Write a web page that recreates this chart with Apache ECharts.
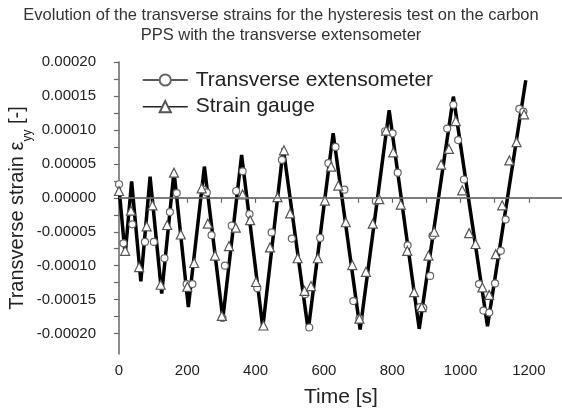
<!DOCTYPE html>
<html><head><meta charset="utf-8">
<script src="https://cdn.jsdelivr.net/npm/echarts@6/dist/echarts.min.js"></script>
<style>html,body{margin:0;padding:0;background:#fff}#c{width:562px;height:413px}</style>
</head><body><div id="c"></div>
<script>
// Black trace through turning points (time s, strain)
var traceTime = [0,18,37,64,91,125,161,203,250,304,359,421,481,554,627,706,791,879,979,1079,1191];
var traceStrain = [0.000015,-0.000084,0.000024,-0.000123,0.000031,-0.000141,0.000039,-0.000161,0.000046,-0.000178,0.000063,-0.000191,0.000073,-0.000195,0.000095,-0.000194,0.000129,-0.000193,0.000149,-0.000189,0.000173];
// Transverse extensometer markers
var extTime = [0,13,39,76,102,133,149,169,198,215,247,257,271,303,310,330,343,362,382,405,447,477,506,545,557,589,613,634,660,686,704,752,779,801,816,845,881,891,911,918,961,979,993,1010,1054,1067,1084,1101,1118,1132,1172,1184];
var extStrain = [0.00002,-0.000067,-0.000039,-0.000065,-0.000065,-0.000089,-0.000021,0.000007,-0.000127,-0.000127,0.000012,0.000008,-0.000055,-0.000177,-0.0001,-0.000041,0.00001,0.000039,-0.000024,-0.000133,-0.000051,0.000056,-0.00006,-0.000142,-0.000191,-0.000059,0.000051,0.000075,0.000012,-0.000152,-0.000178,-0.000005,0.000098,0.000095,0.000037,-0.00007,-0.000161,-0.000162,-0.000115,-0.000056,0.000102,0.000137,0.000085,0.000027,-0.000127,-0.000166,-0.000169,-0.000126,-0.000078,-0.000032,0.000131,0.000127];
// Strain gauge markers
var gaugeTime = [0,18,35,59,81,98,122,141,161,181,200,220,242,260,281,301,322,342,362,384,401,423,442,464,483,501,523,543,562,582,603,621,642,664,683,704,723,743,762,782,803,825,844,864,886,906,923,943,966,986,1005,1025,1044,1064,1084,1103,1122,1143,1164,1186];
var gaugeStrain = [0.00001,-0.000078,-0.000019,-0.000102,-0.000042,-0.000011,-0.000128,-0.00004,0.000037,-0.000054,-0.000131,-0.000096,0.000014,-0.000038,-0.000085,-0.000174,-0.000071,-0.000044,0.000005,-0.000033,-0.000124,-0.000188,-0.000073,0.000001,0.00007,-0.000023,-0.000089,-0.000137,-0.00013,-0.000089,-0.000004,0.000046,0.000018,-0.000036,-0.000099,-0.000178,-0.000109,-0.000038,-0.000002,0.000099,0.000067,-0.00001,-0.000078,-0.000139,-0.000161,-0.000085,-0.00005,0.000049,0.000072,0.000113,0.000011,-0.000052,-0.000068,-0.000132,-0.000143,-0.000083,-0.000011,0.000055,0.000082,0.000123];
var xLabelValues = [0,200,400,600,800,1000,1200];
var xTickValues = [0,100,200,300,400,500,600,700,800,900,1000,1100,1200];
var yLabelValues = [-0.0002,-0.00015,-0.0001,-0.00005,0,0.00005,0.0001,0.00015,0.0002];
var yTickValues = [-0.0002,-0.000175,-0.00015,-0.000125,-0.0001,-0.000075,-0.00005,-0.000025,0,0.000025,0.00005,0.000075,0.0001,0.000125,0.00015,0.000175,0.0002];
var seriesNames = ['Transverse extensometer','Strain gauge'];
var titleLines = ['Evolution of the transverse strains for the hysteresis test on the carbon','PPS with the transverse extensometer'];

function zip(a,b){return a.map(function(v,i){return [v,b[i]];});}
var FONT = '"Liberation Sans", Arial, sans-serif';
var chart = echarts.init(document.getElementById('c'), null, {renderer:'canvas'});
chart.setOption({
  animation:false,
  backgroundColor:'#fff',
  title:{text:titleLines.join('\n'), left:'center', top:0,
    textStyle:{fontFamily:FONT,fontSize:16.5,fontWeight:'normal',color:'#333',lineHeight:20}},
  legend:{orient:'vertical', left:137, top:64, itemWidth:45, itemHeight:14, itemGap:4.7,
    data:seriesNames, textStyle:{fontFamily:FONT,fontSize:21,color:'#222',lineHeight:22,padding:[0,0,0,3]},
    lineStyle:{color:'#222',width:1.5,opacity:1}},
  grid:{left:119, top:62, width:444, height:292, containLabel:false, outerBoundsMode:'none'},
  xAxis:{type:'value', min:0, max:1300, name:'Time [s]', nameLocation:'middle', nameGap:32.5, nameMoveOverlap:false,
    nameTextStyle:{fontFamily:FONT,fontSize:21,color:'#222'},
    axisLine:{lineStyle:{color:'#666',width:1.5}},
    axisTick:{show:true, length:5, customValues:xTickValues, lineStyle:{color:'#666',width:1.2}},
    axisLabel:{customValues:xLabelValues, fontFamily:FONT, fontSize:15, color:'#222', margin:9,
      formatter:function(v){return String(v);}},
    splitLine:{show:false}},
  yAxis:{type:'value', min:-0.00023, max:0.0002,
    name:'Transverse strain ε{s|yy} [-]', nameLocation:'middle', nameGap:92, nameMoveOverlap:false,
    nameTextStyle:{fontFamily:FONT,fontSize:20,color:'#222', rich:{s:{fontFamily:FONT,fontSize:12,color:'#222',verticalAlign:'bottom',padding:[0,0,-7,0]}}},
    axisLine:{lineStyle:{color:'#666',width:1.5}},
    axisTick:{show:true, length:5, customValues:yTickValues, lineStyle:{color:'#666',width:1.2}},
    axisLabel:{customValues:yLabelValues, fontFamily:FONT, fontSize:15, color:'#222', margin:23,
      formatter:function(v){return v.toFixed(5);}},
    splitLine:{show:false}},
  series:[
    {name:'trace', type:'line', data:zip(traceTime,traceStrain), showSymbol:false, symbol:'none', z:2,
      lineStyle:{color:'#000',width:3.5}, silent:true,
      markLine:{silent:true, symbol:'none', label:{show:false}, lineStyle:{color:'#777',width:1.5,type:'solid'},
        data:[{yAxis:0}]}},
    {name:seriesNames[0], type:'line', data:zip(extTime,extStrain), symbol:'circle', symbolSize:7, z:3,
      color:'#222', lineStyle:{width:0, opacity:0},
      itemStyle:{color:'#fff', borderColor:'#666', borderWidth:1.2}},
    {name:seriesNames[1], type:'line', data:zip(gaugeTime,gaugeStrain), symbol:'triangle', symbolSize:9, z:4,
      color:'#222', lineStyle:{width:0, opacity:0},
      itemStyle:{color:'#fff', borderColor:'#555', borderWidth:1.2}}
  ]
});
</script></body></html>
